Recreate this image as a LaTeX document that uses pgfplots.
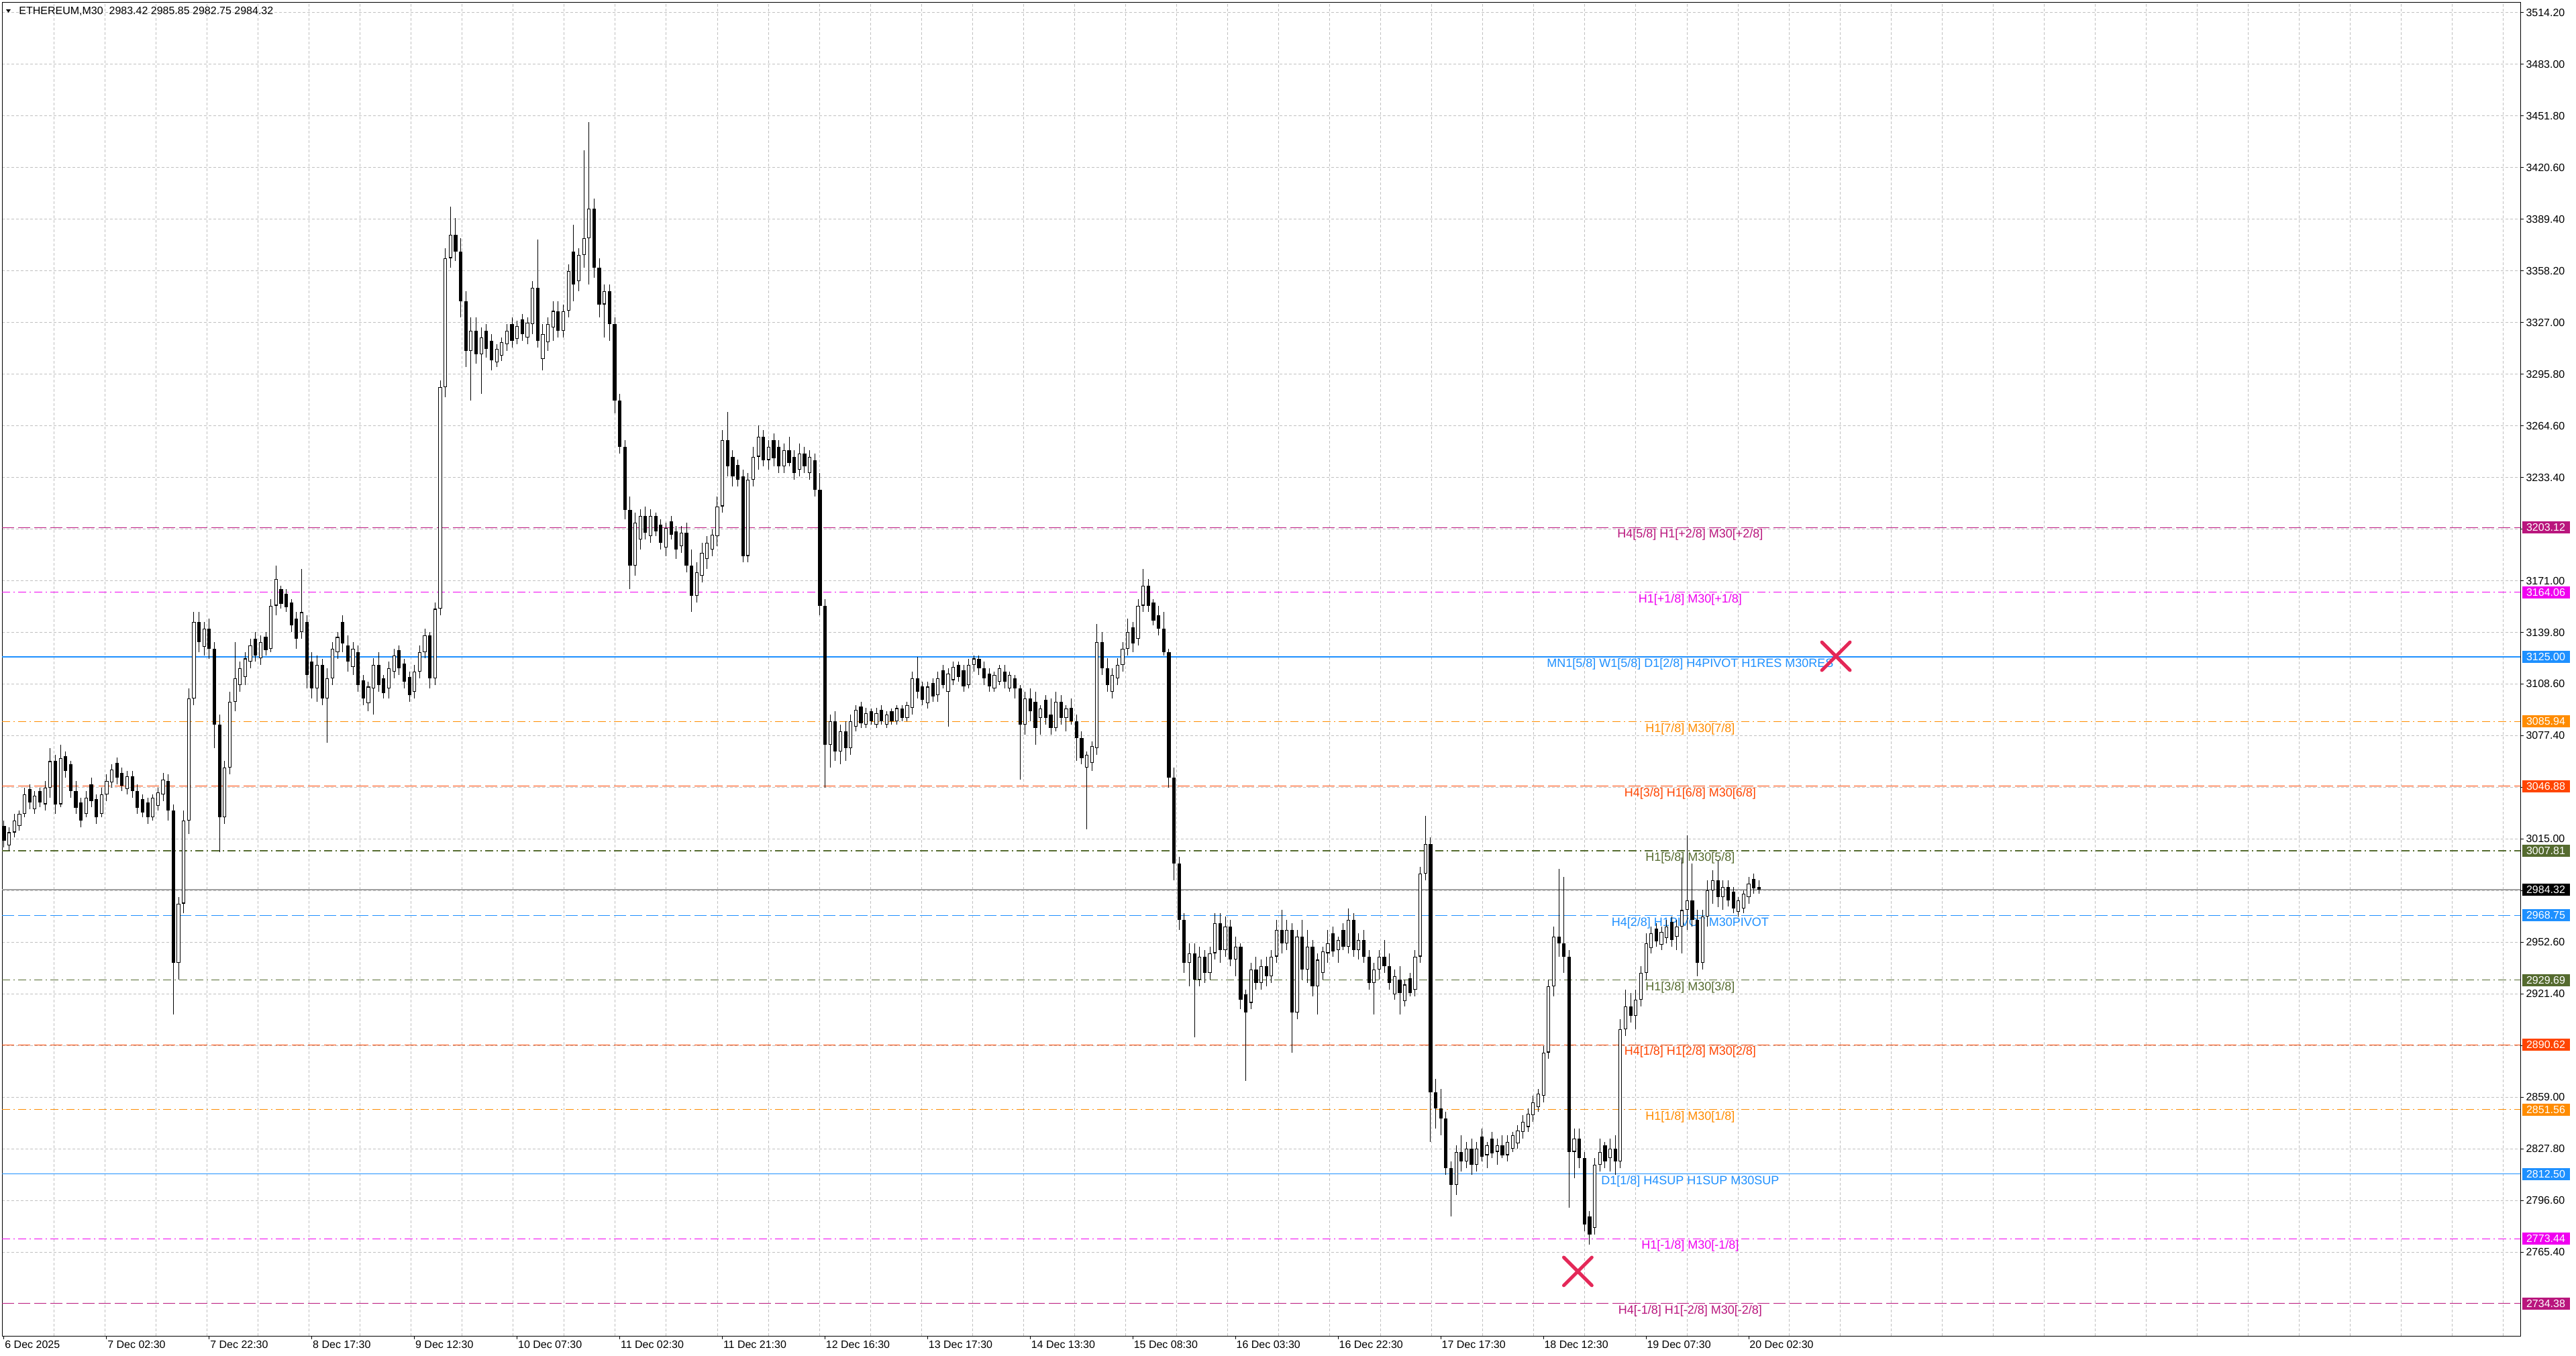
\documentclass[border=0pt]{standalone}
\usepackage{fontspec}
\setmainfont{Liberation Sans}
\usepackage{pgfplots}
\usepackage{pgfplotstable}
\pgfplotsset{compat=1.18}
\definecolor{mvr}{RGB}{185,22,125}
\definecolor{mag}{RGB}{240,0,240}
\definecolor{dblue}{RGB}{30,144,255}
\definecolor{dorange}{RGB}{255,140,0}
\definecolor{ored}{RGB}{255,69,0}
\definecolor{olive}{RGB}{85,107,47}
\definecolor{gridc}{RGB}{192,192,192}
\definecolor{curc}{RGB}{160,160,160}
\definecolor{xred}{RGB}{228,40,88}
\newcommand{\fs}[1]{\fontsize{#1}{#1}\selectfont}
\tikzset{
  lbl/.style={font=\fs{9bp}, inner sep=0pt, anchor=center},
  pbox/.style={anchor=west, xshift=1bp, inner sep=0pt, minimum width=35.5bp, minimum height=9bp, text=white, font=\fs{8bp}},
}
\pgfplotsset{
  lvldash/.style={line width=0.65bp, dash pattern=on 9bp off 3bp, forget plot},
  lvldot/.style={line width=0.65bp, dash pattern=on 6bp off 2.5bp on 1bp off 2.5bp, forget plot},
  lvlsolid/.style={line width=0.6bp, forget plot},
  nomk/.style={forget plot, only marks, mark=*, mark size=0pt, mark options={draw=none, fill=none}},
}
\pgfplotstableread{
o h l c
3023 3026 3010 3014
3011 3022 3008 3019
3019 3030 3016 3026
3023 3032 3020 3030
3030 3046 3028 3042
3045 3048 3033 3037
3033 3044 3030 3041
3044 3046 3034 3037
3036 3050 3032 3046
3046 3070 3040 3062
3062 3066 3030 3036
3036 3072 3034 3064
3065 3068 3052 3056
3060 3062 3040 3044
3044 3050 3030 3034
3037 3040 3022 3026
3030 3044 3028 3040
3048 3052 3034 3038
3039 3042 3024 3028
3030 3046 3028 3042
3042 3054 3038 3050
3049 3060 3046 3057
3061 3064 3048 3052
3055 3058 3044 3047
3045 3056 3042 3053
3053 3056 3040 3044
3044 3048 3030 3034
3039 3042 3028 3031
3037 3040 3024 3028
3028 3042 3026 3040
3035 3046 3032 3043
3042 3055 3038 3051
3050 3054 3026 3032
3032 3036 2909 2940
2940 2980 2930 2976
2976 3032 2970 3026
3026 3106 3018 3100
3100 3152 3096 3146
3146 3152 3128 3134
3131 3146 3126 3142
3142 3148 3124 3130
3130 3134 3070 3084
3084 3090 3007 3028
3028 3062 3024 3058
3058 3104 3054 3098
3098 3134 3092 3112
3108 3122 3104 3118
3113 3128 3108 3124
3122 3136 3118 3132
3136 3140 3122 3126
3124 3138 3120 3134
3137 3140 3126 3129
3130 3160 3128 3156
3156 3180 3150 3172
3166 3168 3154 3157
3163 3166 3152 3155
3158 3160 3140 3144
3148 3152 3130 3136
3140 3178 3136 3152
3146 3150 3106 3114
3122 3128 3100 3106
3106 3126 3098 3120
3120 3124 3096 3100
3100 3118 3073 3112
3112 3134 3108 3130
3128 3140 3124 3137
3146 3150 3128 3133
3132 3138 3116 3122
3119 3134 3114 3130
3128 3132 3104 3108
3111 3114 3096 3100
3097 3110 3092 3107
3106 3124 3090 3120
3120 3128 3104 3108
3112 3114 3100 3103
3106 3122 3100 3118
3116 3130 3112 3126
3129 3132 3114 3118
3121 3124 3106 3110
3113 3116 3098 3102
3104 3120 3100 3116
3116 3132 3112 3128
3128 3142 3124 3138
3138 3140 3106 3112
3112 3158 3108 3154
3154 3292 3150 3288
3288 3372 3282 3366
3366 3397 3360 3380
3380 3390 3364 3370
3370 3378 3330 3340
3340 3346 3300 3310
3310 3330 3280 3322
3322 3330 3302 3308
3308 3324 3284 3318
3322 3326 3306 3311
3316 3320 3298 3304
3303 3314 3300 3311
3307 3318 3304 3315
3314 3326 3310 3322
3326 3330 3312 3316
3317 3328 3314 3325
3329 3332 3316 3320
3318 3330 3314 3327
3326 3352 3320 3348
3348 3377 3312 3316
3305 3326 3298 3320
3315 3330 3310 3326
3324 3340 3316 3334
3334 3340 3318 3322
3322 3338 3318 3334
3334 3362 3330 3358
3370 3386 3340 3350
3352 3372 3346 3368
3368 3431 3360 3378
3378 3448 3350 3396
3396 3402 3354 3360
3360 3366 3330 3338
3338 3350 3318 3346
3346 3350 3316 3326
3326 3330 3272 3280
3280 3284 3248 3252
3252 3256 3208 3214
3214 3222 3166 3180
3180 3212 3174 3206
3196 3214 3190 3210
3210 3216 3196 3200
3198 3214 3194 3210
3210 3212 3198 3201
3205 3208 3190 3194
3191 3206 3186 3203
3207 3210 3196 3199
3201 3204 3184 3190
3192 3204 3188 3200
3200 3206 3176 3180
3180 3190 3152 3162
3162 3182 3158 3176
3174 3194 3170 3188
3184 3198 3178 3194
3190 3202 3186 3199
3198 3222 3192 3216
3216 3262 3212 3256
3256 3273 3234 3240
3246 3250 3228 3234
3241 3244 3228 3232
3234 3238 3182 3186
3186 3236 3182 3232
3232 3252 3228 3246
3246 3265 3238 3258
3258 3262 3240 3244
3244 3256 3238 3252
3256 3260 3240 3245
3252 3256 3236 3240
3240 3254 3236 3250
3250 3258 3240 3242
3246 3250 3232 3236
3238 3254 3234 3248
3248 3252 3236 3240
3236 3250 3232 3246
3244 3248 3222 3226
3226 3236 3150 3156
3156 3160 3046 3072
3072 3090 3058 3086
3086 3092 3062 3068
3068 3084 3060 3080
3080 3086 3062 3070
3070 3090 3066 3086
3083 3096 3080 3093
3095 3098 3082 3085
3084 3094 3082 3091
3092 3094 3084 3086
3084 3094 3082 3091
3093 3096 3084 3086
3084 3092 3082 3090
3092 3094 3084 3086
3086 3096 3084 3094
3094 3096 3086 3088
3088 3098 3086 3096
3094 3116 3090 3112
3112 3125 3100 3104
3107 3110 3096 3099
3097 3110 3094 3107
3109 3112 3098 3101
3102 3116 3098 3112
3117 3120 3106 3108
3104 3118 3083 3115
3111 3122 3108 3119
3120 3122 3110 3113
3117 3120 3104 3107
3108 3124 3106 3120
3120 3126 3116 3124
3124 3126 3114 3118
3118 3122 3108 3112
3115 3118 3104 3107
3106 3116 3104 3114
3110 3120 3108 3118
3116 3120 3106 3110
3106 3116 3104 3114
3112 3114 3100 3106
3106 3108 3051 3084
3084 3104 3078 3100
3100 3106 3086 3092
3098 3104 3072 3082
3088 3096 3078 3094
3099 3102 3084 3088
3090 3100 3078 3082
3082 3104 3080 3098
3098 3102 3084 3088
3088 3096 3080 3094
3094 3100 3084 3086
3086 3090 3062 3076
3076 3080 3060 3064
3058 3068 3021 3066
3061 3074 3056 3071
3070 3145 3066 3134
3134 3140 3114 3118
3118 3124 3104 3108
3104 3118 3100 3114
3112 3124 3108 3120
3120 3134 3116 3130
3130 3148 3126 3140
3143 3146 3128 3133
3136 3160 3132 3156
3156 3178 3152 3168
3168 3172 3152 3156
3158 3160 3144 3147
3150 3156 3138 3142
3142 3152 3126 3128
3128 3130 3046 3052
3052 3058 2990 3000
3000 3004 2960 2966
2966 2970 2934 2940
2940 2952 2926 2946
2946 2952 2895 2930
2930 2950 2926 2944
2944 2948 2928 2934
2934 2950 2930 2946
2946 2970 2942 2964
2964 2970 2940 2948
2948 2968 2944 2962
2962 2966 2938 2942
2942 2956 2932 2950
2950 2952 2912 2918
2921 2924 2869 2910
2916 2940 2912 2936
2936 2944 2924 2928
2928 2942 2924 2938
2938 2944 2926 2932
2932 2948 2928 2944
2944 2966 2940 2960
2960 2972 2946 2952
2952 2966 2948 2960
2960 2964 2886 2910
2910 2960 2906 2956
2956 2966 2930 2936
2936 2960 2928 2950
2950 2954 2920 2926
2926 2946 2909 2942
2934 2950 2930 2947
2946 2960 2940 2952
2958 2962 2944 2947
2948 2956 2940 2954
2960 2964 2948 2950
2950 2973 2946 2966
2966 2970 2944 2948
2948 2958 2942 2954
2954 2960 2940 2944
2944 2948 2924 2928
2928 2940 2909 2936
2936 2948 2930 2944
2944 2954 2934 2938
2938 2946 2924 2928
2921 2936 2918 2932
2930 2938 2909 2922
2917 2930 2914 2927
2931 2934 2920 2922
2924 2948 2920 2944
2944 2998 2940 2994
2994 3029 2990 3012
3012 3016 2832 2862
2862 2870 2840 2852
2852 2864 2836 2846
2846 2850 2812 2816
2816 2820 2787 2806
2806 2830 2800 2826
2826 2836 2814 2820
2820 2832 2816 2828
2828 2834 2812 2818
2818 2832 2814 2828
2835 2840 2820 2823
2824 2832 2816 2830
2834 2838 2822 2825
2826 2834 2818 2830
2830 2836 2822 2824
2824 2836 2820 2832
2828 2838 2826 2836
2831 2842 2828 2839
2838 2848 2834 2844
2841 2852 2838 2849
2848 2860 2844 2856
2853 2864 2850 2861
2860 2890 2856 2886
2886 2930 2882 2926
2926 2962 2920 2956
2956 2997 2944 2952
2952 2992 2934 2944
2944 2948 2792 2826
2826 2840 2810 2834
2834 2840 2816 2822
2822 2826 2778 2782
2787 2790 2770 2776
2780 2822 2776 2818
2818 2834 2814 2826
2830 2832 2816 2820
2822 2834 2814 2828
2828 2836 2812 2820
2820 2906 2816 2900
2900 2924 2896 2914
2914 2922 2904 2908
2908 2924 2900 2918
2918 2938 2914 2934
2934 2958 2930 2952
2949 2962 2946 2958
2961 2964 2950 2953
2951 2962 2948 2959
2955 2966 2952 2962
2965 2968 2950 2954
2956 2966 2948 2962
2962 3004 2946 2972
2972 3017 2960 2978
2978 3000 2962 2966
2966 2972 2932 2940
2940 2972 2936 2968
2968 2990 2962 2984
2984 2996 2976 2990
2990 3002 2974 2980
2980 2990 2972 2986
2986 2990 2974 2978
2983 2986 2970 2973
2971 2980 2968 2978
2973 2984 2970 2982
2980 2992 2976 2988
2991 2994 2982 2985
2986 2990 2982 2984.32
}\candles
\begin{document}
\begin{tikzpicture}
\fill[white] (-1.5bp,-15bp) rectangle (1918bp,995.5bp);
\begin{axis}[
  at={(0,0)}, anchor=south west,
  scale only axis, width=1876.5bp, height=993.5bp,
  xmin=-0.392, xmax=490.39, ymin=2714.75, ymax=3520.28,
  clip=false,
  axis line style={black, line width=0.5bp},
  tick style={black, line width=0.5bp},
  major tick length=2.5bp, minor tick length=0pt,
  tick align=outside,
  xtick pos=left, ytick pos=right, yticklabel pos=right,
  xtick={0,20,...,340},
  xticklabels={6 Dec 2025,7 Dec 02:30,7 Dec 22:30,8 Dec 17:30,9 Dec 12:30,10 Dec 07:30,11 Dec 02:30,11 Dec 21:30,12 Dec 16:30,13 Dec 17:30,14 Dec 13:30,15 Dec 08:30,16 Dec 03:30,16 Dec 22:30,17 Dec 17:30,18 Dec 12:30,19 Dec 07:30,20 Dec 02:30},
  minor xtick={9.725,19.67,...,487.2},
  xminorgrids=true, xmajorgrids=false, ymajorgrids=true,
  ytick={2765.4,2796.6,2827.8,2859,2890.2,2921.4,2952.6,2983.8,3015,3046.2,3077.4,3108.6,3139.8,3171,3202.2,3233.4,3264.6,3295.8,3327,3358.2,3389.4,3420.6,3451.8,3483,3514.2},
  yticklabels={2765.40,2796.60,2827.80,2859.00,,2921.40,2952.60,,3015.00,,3077.40,3108.60,3139.80,3171.00,,3233.40,3264.60,3295.80,3327.00,3358.20,3389.40,3420.60,3451.80,3483.00,3514.20},
  grid style={gridc, line width=0.5bp, dash pattern=on 2bp off 1.5bp},
  major grid style={gridc, line width=0.5bp, dash pattern=on 2bp off 1.5bp},
  minor grid style={gridc, line width=0.5bp, dash pattern=on 2bp off 1.5bp},
  xticklabel style={font=\fs{8bp}, anchor=north west, inner sep=0pt, xshift=0.5bp, yshift=-1bp},
  yticklabel style={font=\fs{8bp}, anchor=west, inner sep=0pt, xshift=1.5bp},
]
% level lines
\addplot[mvr, lvldash] coordinates {(-0.392,3203.12) (490.39,3203.12)};
\addplot[mag, lvldot] coordinates {(-0.392,3164.06) (490.39,3164.06)};
\addplot[dblue, lvlsolid, line width=1bp] coordinates {(-0.392,3125.00) (490.39,3125.00)};
\addplot[dorange, lvldot] coordinates {(-0.392,3085.94) (490.39,3085.94)};
\addplot[ored, lvldash] coordinates {(-0.392,3046.88) (490.39,3046.88)};
\addplot[olive, lvldot] coordinates {(-0.392,3007.81) (490.39,3007.81)};
\addplot[curc, lvlsolid] coordinates {(-0.392,2984.32) (490.39,2984.32)};
\addplot[dblue, lvldash] coordinates {(-0.392,2968.75) (490.39,2968.75)};
\addplot[olive, lvldot] coordinates {(-0.392,2929.69) (490.39,2929.69)};
\addplot[ored, lvldash] coordinates {(-0.392,2890.62) (490.39,2890.62)};
\addplot[dorange, lvldot] coordinates {(-0.392,2851.56) (490.39,2851.56)};
\addplot[dblue, lvlsolid] coordinates {(-0.392,2812.50) (490.39,2812.50)};
\addplot[mag, lvldot] coordinates {(-0.392,2773.44) (490.39,2773.44)};
\addplot[mvr, lvldash] coordinates {(-0.392,2734.38) (490.39,2734.38)};
% level texts
\node[lbl, text=mvr] at (axis cs:328.6,3198.66) {H4[5/8] H1[+2/8] M30[+2/8]};
\node[lbl, text=mag] at (axis cs:328.6,3159.60) {H1[+1/8] M30[+1/8]};
\node[lbl, text=dblue] at (axis cs:328.6,3120.54) {MN1[5/8] W1[5/8] D1[2/8] H4PIVOT H1RES M30RES};
\node[lbl, text=dorange] at (axis cs:328.6,3081.48) {H1[7/8] M30[7/8]};
\node[lbl, text=ored] at (axis cs:328.6,3042.42) {H4[3/8] H1[6/8] M30[6/8]};
\node[lbl, text=olive] at (axis cs:328.6,3003.35) {H1[5/8] M30[5/8]};
\node[lbl, text=dblue] at (axis cs:328.6,2964.29) {H4[2/8] H1PIVOT M30PIVOT};
\node[lbl, text=olive] at (axis cs:328.6,2925.23) {H1[3/8] M30[3/8]};
\node[lbl, text=ored] at (axis cs:328.6,2886.16) {H4[1/8] H1[2/8] M30[2/8]};
\node[lbl, text=dorange] at (axis cs:328.6,2847.10) {H1[1/8] M30[1/8]};
\node[lbl, text=dblue] at (axis cs:328.6,2808.04) {D1[1/8] H4SUP H1SUP M30SUP};
\node[lbl, text=mag] at (axis cs:328.6,2768.98) {H1[-1/8] M30[-1/8]};
\node[lbl, text=mvr] at (axis cs:328.6,2729.92) {H4[-1/8] H1[-2/8] M30[-2/8]};
% candles: wicks
\addplot[nomk,
  error bars/.cd, y dir=both, y explicit, error mark=none,
  error bar style={black, line width=0.5bp}]
  table[x expr=\coordindex, y expr={(\thisrow{h}+\thisrow{l})/2}, y error expr={(\thisrow{h}-\thisrow{l})/2}] {\candles};
% bodies
\addplot[nomk,
  error bars/.cd, y dir=both, y explicit, error mark=none,
  error bar style={black, line width=2.6bp}]
  table[x expr=\coordindex, y expr={(\thisrow{o}+\thisrow{c})/2}, y error expr={max(abs(\thisrow{o}-\thisrow{c})/2,0.3)}] {\candles};
% bullish interiors
\addplot[nomk,
  error bars/.cd, y dir=both, y explicit, error mark=none,
  error bar style={white, line width=1.6bp}]
  table[x expr=\coordindex, y expr={(\thisrow{o}+\thisrow{c})/2}, y error expr={(\thisrow{c}>\thisrow{o})*max((\thisrow{c}-\thisrow{o})/2-0.45,0)}] {\candles};
% X marks
\addplot[forget plot, only marks, mark=x, mark size=14.8bp, xred, mark options={line width=2.5bp, line cap=round}] coordinates {(357,3125.4) (306.7,2753.7)};
% price boxes
\node[pbox, fill=mvr] at (axis cs:490.39,3203.12) {3203.12};
\node[pbox, fill=mag] at (axis cs:490.39,3164.06) {3164.06};
\node[pbox, fill=dblue] at (axis cs:490.39,3125.00) {3125.00};
\node[pbox, fill=dorange] at (axis cs:490.39,3085.94) {3085.94};
\node[pbox, fill=ored] at (axis cs:490.39,3046.88) {3046.88};
\node[pbox, fill=olive] at (axis cs:490.39,3007.81) {3007.81};
\node[pbox, fill=black] at (axis cs:490.39,2984.32) {2984.32};
\node[pbox, fill=dblue] at (axis cs:490.39,2968.75) {2968.75};
\node[pbox, fill=olive] at (axis cs:490.39,2929.69) {2929.69};
\node[pbox, fill=ored] at (axis cs:490.39,2890.62) {2890.62};
\node[pbox, fill=dorange] at (axis cs:490.39,2851.56) {2851.56};
\node[pbox, fill=dblue] at (axis cs:490.39,2812.50) {2812.50};
\node[pbox, fill=mag] at (axis cs:490.39,2773.44) {2773.44};
\node[pbox, fill=mvr] at (axis cs:490.39,2734.38) {2734.38};
% title
\fill[black] ([xshift=3bp,yshift=-5bp]rel axis cs:0,1) -- ([xshift=6.5bp,yshift=-5bp]rel axis cs:0,1) -- ([xshift=4.75bp,yshift=-7.4bp]rel axis cs:0,1) -- cycle;
\node[anchor=west, inner sep=0pt, font=\fs{8bp}] at ([xshift=12.5bp,yshift=-6.5bp]rel axis cs:0,1) {ETHEREUM,M30\ \ 2983.42 2985.85 2982.75 2984.32};
\end{axis}
\pgfresetboundingbox
\useasboundingbox (-1.5bp,-15bp) rectangle (1918bp,995.5bp);
\end{tikzpicture}
\end{document}
